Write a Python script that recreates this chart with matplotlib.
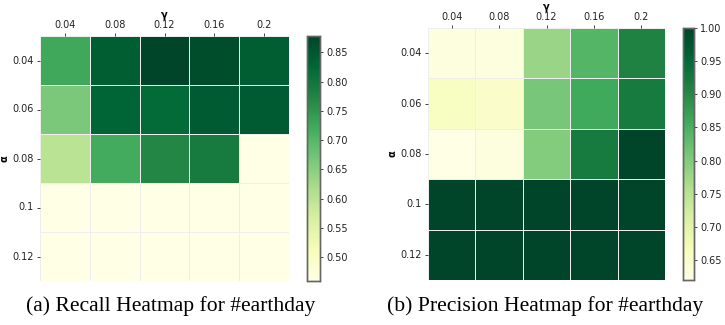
import matplotlib
matplotlib.use("Agg")
import matplotlib.pyplot as plt
import numpy as np
import seaborn as sns

gammas = ["0.04", "0.08", "0.12", "0.16", "0.2"]
alphas = ["0.04", "0.06", "0.08", "0.1", "0.12"]

recall = np.array([
    [0.725, 0.84, 0.878, 0.865, 0.84],
    [0.665, 0.83, 0.82, 0.845, 0.845],
    [0.60, 0.72, 0.77, 0.79, 0.459],
    [0.459, 0.459, 0.459, 0.459, 0.459],
    [0.459, 0.459, 0.459, 0.459, 0.459],
])
precision = np.array([
    [0.63, 0.63, 0.78, 0.84, 0.91],
    [0.66, 0.65, 0.81, 0.86, 0.92],
    [0.62, 0.63, 0.80, 0.92, 1.00],
    [1.00, 1.00, 1.00, 1.00, 1.00],
    [1.00, 1.00, 1.00, 1.00, 1.00],
])
captions = ["(a) Recall Heatmap for #earthday", "(b) Precision Heatmap for #earthday"]

W, H = 725, 325
fig = plt.figure(figsize=(W / 100, H / 100), dpi=100)

def px_axes(x0, y0, x1, y1):
    return fig.add_axes([x0 / W, 1 - y1 / H, (x1 - x0) / W, (y1 - y0) / H])

panels = [
    (recall, (40, 36, 289, 281), (307, 36, 320, 281), captions[0], 171),
    (precision, (428, 28, 665, 280), (683, 28, 694, 280), captions[1], 545),
]

for data, ab, cb, cap, cx in panels:
    ax = px_axes(*ab)
    cax = px_axes(*cb)
    sns.heatmap(data, ax=ax, cbar_ax=cax, cmap="YlGn", linewidths=0.5,
                linecolor="#eeeeee", xticklabels=gammas, yticklabels=alphas)
    ax.xaxis.tick_top()
    ax.xaxis.set_label_position("top")
    ax.set_xlabel("γ", fontsize=7, fontweight="bold", labelpad=1)
    ax.set_ylabel("α", fontsize=7, fontweight="bold", labelpad=2)
    ax.tick_params(axis="both", labelsize=7, length=2.5, width=0.6, pad=2, colors="#222222")
    ax.tick_params(axis="y", rotation=0)
    cax.tick_params(labelsize=7, length=2.5, width=0.6, pad=2, colors="#222222")
    for s in cax.spines.values():
        s.set_visible(True)
        s.set_edgecolor("#666666")
        s.set_linewidth(1.0)
    fig.text(cx / W, 1 - 306 / H, cap, ha="center", va="center",
             fontsize=15.6, family="Liberation Serif")

fig.savefig("out.png", dpi=100)
